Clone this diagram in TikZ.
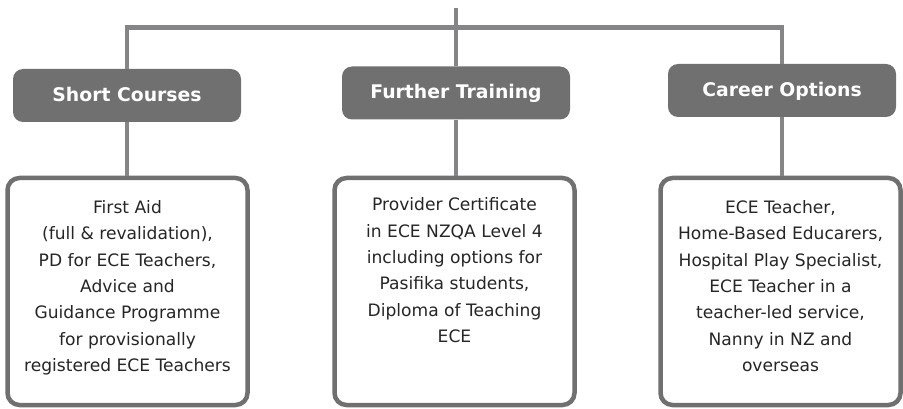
\documentclass[tikz,border=0pt]{standalone}
\usepackage{fontspec}
\setmainfont{DejaVu Sans}
\usetikzlibrary{calc}

\definecolor{boxgray}{HTML}{707070}
\definecolor{linegray}{HTML}{858587}
\definecolor{textgray}{HTML}{262626}

\tikzset{
  headbox/.style={fill=boxgray, text=white, rounded corners=10pt,
    minimum width=228pt, minimum height=53pt, inner sep=0pt,
    text height=13.7pt, text depth=2pt,
    font=\bfseries\fontsize{18.8}{22}\selectfont},
  listbox/.style={draw=boxgray, line width=4.5pt, fill=white, rounded corners=12pt,
    minimum width=240pt, minimum height=227pt, inner sep=0pt},
  listtext/.style={anchor=base, align=center, text=textgray, inner sep=0pt,
    font=\fontsize{17.1}{26.4}\selectfont},
  link/.style={draw=linegray, line width=4.5pt}
}

\begin{document}
\begin{tikzpicture}[x=1pt,y=-1pt]
\useasboundingbox (0,0) rectangle (903,409);

\def\boxmid{291.5} % centre line of the three lists
\def\gap{196}      % list top to last baseline

% headings
\node[headbox] (sc) at (127,95.5) {Short Courses};
\node[headbox] (ft) at (456,93) {Further Training};
\node[headbox] (co) at (782,90.5) {Career Options};

% lists
\node[listbox] (scbox) at (127.5,\boxmid) {};
\node[listbox] (ftbox) at (454.5,\boxmid) {};
\node[listbox] (cobox) at (780.5,\boxmid) {};

\node[listtext] (sctext) at ($(scbox.north)+(0,\gap)$)
  {First Aid\\(full \& revalidation),\\PD for ECE Teachers,\\Advice and\\Guidance Programme\\for provisionally\\registered ECE Teachers};
\node[listtext] (fttext) at ($(ftbox.north)+(0,\gap-29)$)
  {Provider Certificate\\in ECE NZQA Level 4\\including options for\\Pasifika students,\\Diploma of Teaching\\ECE};
\node[listtext] (cotext) at ($(cobox.north)+(0,\gap)$)
  {ECE Teacher,\\Home-Based Educarers,\\Hospital Play Specialist,\\ECE Teacher in a\\teacher-led service,\\Nanny in NZ and\\overseas};

% connectors
\coordinate (root) at (ft.north |- 0,8);
\coordinate (bar) at (0,27.5);
\draw[link] (root) -- (ft.north);
\draw[link] (sc.north) -- (sc.north |- bar) -- (co.north |- bar) -- (co.north);
\draw[link] (sc.south) -- (sc.south |- scbox.north);
\draw[link] (ft.south) -- (ft.south |- ftbox.north);
\draw[link] (co.south) -- (co.south |- cobox.north);

\end{tikzpicture}
\end{document}
